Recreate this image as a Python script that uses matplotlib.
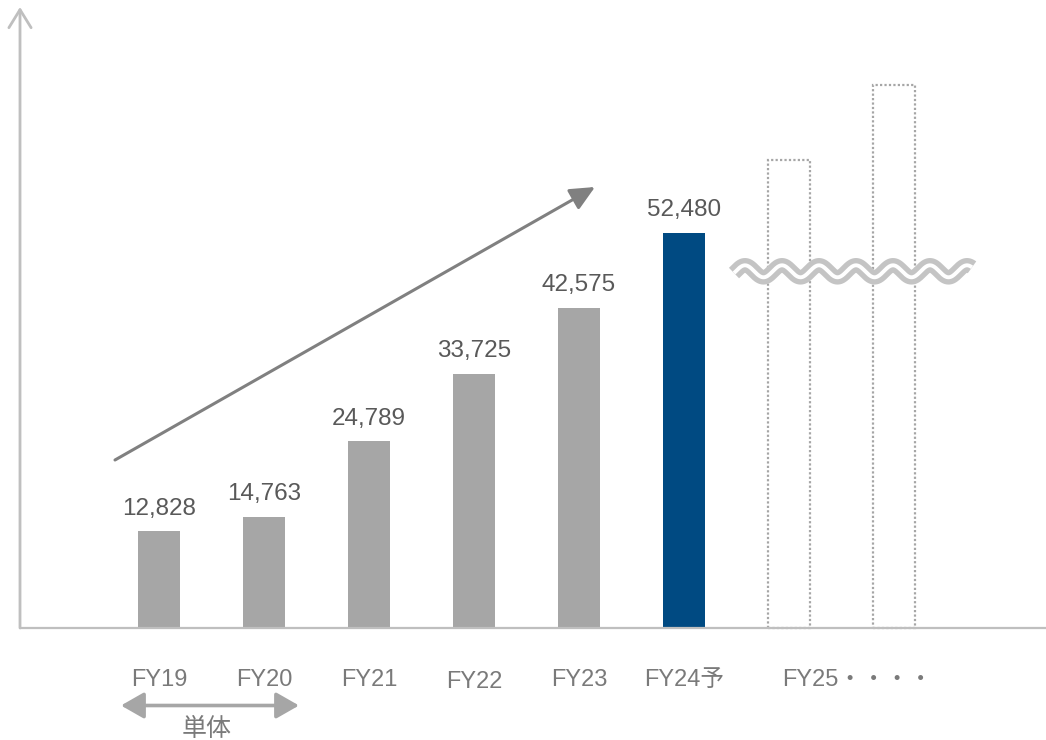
import numpy as np
import matplotlib
matplotlib.use("Agg")
import matplotlib.pyplot as plt

plt.rcParams['font.family'] = ['Liberation Sans', 'Noto Sans CJK JP', 'DejaVu Sans']

# ---- data ----
categories = ["FY19", "FY20", "FY21", "FY22", "FY23", "FY24予"]
values = [12828, 14763, 24789, 33725, 42575, 52480]
value_labels = ["12,828", "14,763", "24,789", "33,725", "42,575", "52,480"]
future_label = "FY25・・・・"
future_heights = [62200, 72100]          # placeholder (dotted) bars
bracket_label = "単体"

# ---- style ----
GRAY = "#A6A6A6"
NAVY = "#004A82"
AXIS = "#BFBFBF"
TXT_VAL = "#595959"
TXT_LAB = "#7A7A7A"

fig = plt.figure(figsize=(10.46, 7.40), dpi=100)
ax = fig.add_axes([0, 0, 1, 1])
px_x = 105.0           # pixels per category
px_y = 132.86          # data units per pixel
x0_px, y0_px = 159.0, 628.0
W, H = 1046, 740
ax.set_xlim(-x0_px / px_x, (W - x0_px) / px_x)
ax.set_ylim(-(H - y0_px) * px_y, y0_px * px_y)
ax.axis('off')

def X(p):  # pixel -> data x
    return (p - x0_px) / px_x
def Y(p):  # pixel (from top) -> data y
    return (y0_px - p) * px_y

pos = np.arange(len(categories))
colors = [GRAY] * (len(categories) - 1) + [NAVY]
ax.bar(pos, values, width=0.4, color=colors, zorder=3)

# dotted future bars
fpos = np.arange(len(categories), len(categories) + len(future_heights))
ax.bar(fpos, future_heights, width=0.4, fill=False, edgecolor=GRAY,
       linestyle=(0, (1, 1)), linewidth=1.6, zorder=3)

# value labels
for p, v, s in zip(pos, values, value_labels):
    ax.annotate(s, (p, v), xytext=(0, 12), textcoords='offset points',
                ha='center', va='baseline', fontsize=17.5, color=TXT_VAL, zorder=5)

# x-axis line
ax.plot([X(20), X(W)], [0, 0], color=AXIS, lw=1.6, zorder=4, solid_capstyle='butt')
# y-axis arrow
ax.annotate('', xy=(X(20), Y(7)), xytext=(X(20), 0),
            arrowprops=dict(arrowstyle='->,head_length=0.65,head_width=0.4',
                            color=AXIS, lw=2, mutation_scale=20,
                            shrinkA=0, shrinkB=0), zorder=4)

# category labels
label_dy = [0, 0, 0, 2, 0, 0]
for p, c, d in zip(pos, categories, label_dy):
    ax.text(p, Y(686 + d), c, ha='center', va='baseline', fontsize=17, color=TXT_LAB)
ax.text(X(782), Y(686), future_label, ha='left', va='baseline', fontsize=17, color=TXT_LAB)

# trend arrow
ax.annotate('', xy=(X(595), Y(187)), xytext=(X(115), Y(460)),
            arrowprops=dict(arrowstyle='-|>,head_length=0.75,head_width=0.35',
                            color="#808080", lw=2.2, mutation_scale=20,
                            shrinkA=0, shrinkB=0), zorder=4)

# bracket double arrow + label
ax.annotate('', xy=(X(121), Y(705.5)), xytext=(X(299), Y(705.5)),
            arrowprops=dict(arrowstyle='<|-|>,head_length=0.7,head_width=0.4',
                            color=GRAY, lw=2.6, mutation_scale=20,
                            shrinkA=0, shrinkB=0), zorder=4)
ax.text(X(206.5), Y(736), bracket_label, ha='center', va='baseline',
        fontsize=18, color=TXT_LAB)

# wavy break mark
xs_px = np.linspace(734, 972, 600)
ys_px = 271.3 - 6.0 * np.cos(2 * np.pi * (xs_px - 745) / 37.0)
ax.plot(X(xs_px), Y(ys_px), color="#C4C4C4", lw=10.5, zorder=6, solid_capstyle='butt')
ax.plot(X(xs_px), Y(ys_px), color="white", lw=2.8, zorder=7, solid_capstyle='butt')

fig.savefig("out.png", dpi=100)
